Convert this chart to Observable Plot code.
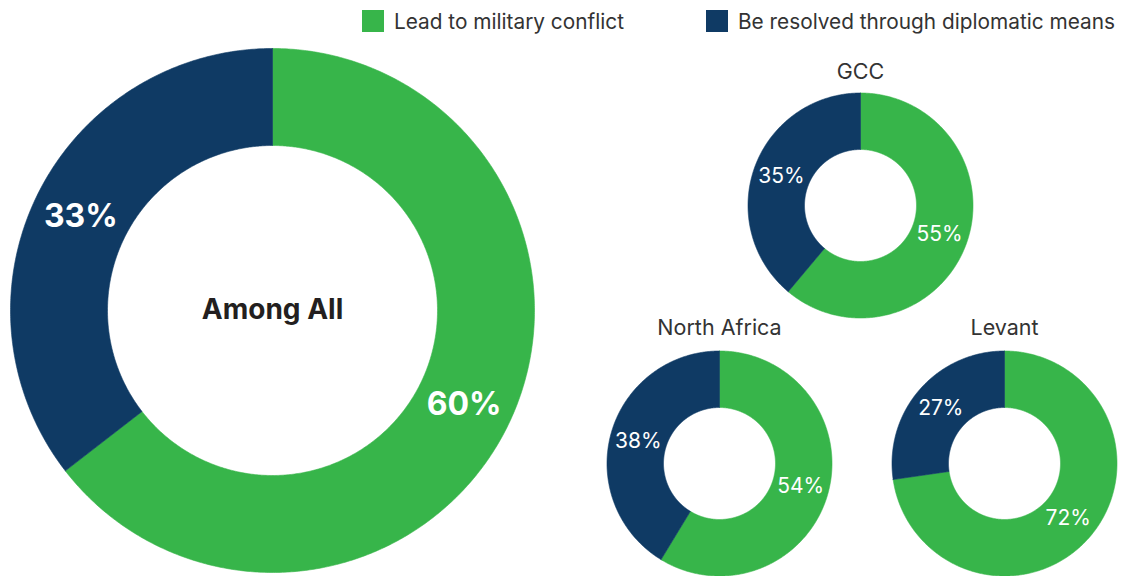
<!DOCTYPE html>
<html>
<head>
<meta charset="utf-8">
<script src="https://cdn.jsdelivr.net/npm/d3@7"></script>
<script src="https://cdn.jsdelivr.net/npm/@observablehq/plot@0.6"></script>
<style>
  html, body { margin: 0; padding: 0; background: #fff; }
  body { width: 1148px; height: 576px; overflow: hidden; font-family: Inter, "Noto Sans", sans-serif; }
  #legend { position: relative; height: 42px; width: 1148px; }
  .item { position: absolute; top: 10px; display: flex; align-items: center; height: 22px; font-size: 20.8px; color: #333; white-space: nowrap; }
  .sw { width: 22px; height: 22px; margin-right: 10px; flex: none; }
  #chart svg { display: block; }
</style>
</head>
<body>
<div id="legend"></div>
<div id="chart"></div>
<script>
// ---- data ----
const groups = ["Among All", "GCC", "North Africa", "Levant"];
const military = [60, 55, 54, 72];
const diplomatic = [33, 35, 38, 27];
const seriesNames = ["Lead to military conflict", "Be resolved through diplomatic means"];
const seriesColors = ["#37b54a", "#0f3a64"];

// ---- layout (pixels, SVG coordinates) ----
const W = 1148, H = 534, TOP = 42;
const layout = [
  {cx: 272,  cy: 310 - TOP, R: 262,   r: 165, titleY: null,      big: true},
  {cx: 860,  cy: 205 - TOP, R: 112.5, r: 56,  titleY: 72 - TOP,  big: false},
  {cx: 719,  cy: 463 - TOP, R: 112.5, r: 56,  titleY: 328 - TOP, big: false},
  {cx: 1004, cy: 463 - TOP, R: 112.5, r: 56,  titleY: 328 - TOP, big: false}
];

// legend
const legendX = [362, 706];
const legend = document.getElementById("legend");
seriesNames.forEach((name, i) => {
  const it = document.createElement("div");
  it.className = "item";
  it.style.left = legendX[i] + "px";
  it.innerHTML = `<span class="sw" style="background:${seriesColors[i]}"></span><span>${name}</span>`;
  legend.appendChild(it);
});

// build arc polygons from the data
const arcRows = [];
const labelRows = [];
groups.forEach((g, gi) => {
  const L = layout[gi];
  const vals = [military[gi], diplomatic[gi]];
  const total = d3.sum(vals);
  let a = 0;
  vals.forEach((v, si) => {
    const a0 = a, a1 = a + (v / total) * 2 * Math.PI;
    a = a1;
    const n = Math.max(2, Math.ceil((a1 - a0) / (Math.PI / 360)));
    const pts = [];
    for (let k = 0; k <= n; k++) {
      const t = a0 + (a1 - a0) * k / n;
      pts.push([L.cx + L.R * Math.sin(t), L.cy - L.R * Math.cos(t)]);
    }
    for (let k = n; k >= 0; k--) {
      const t = a0 + (a1 - a0) * k / n;
      pts.push([L.cx + L.r * Math.sin(t), L.cy - L.r * Math.cos(t)]);
    }
    pts.push(pts[0]);
    pts.forEach(([x, y]) => arcRows.push({group: g, series: si, x, y}));
    const am = (a0 + a1) / 2, rm = (L.R + L.r) / 2;
    labelRows.push({group: g, big: L.big, x: L.cx + rm * Math.sin(am), y: L.cy - rm * Math.cos(am), text: v + "%"});
  });
});

const titleRows = groups.map((g, i) => ({g, x: layout[i].cx, y: layout[i].titleY, big: layout[i].big}));

const chart = Plot.plot({
  width: W,
  height: H,
  margin: 0,
  style: {fontFamily: "Inter, 'Noto Sans', sans-serif", background: "white"},
  x: {type: "linear", domain: [0, W], range: [0, W], axis: null},
  y: {type: "linear", domain: [0, H], range: [0, H], axis: null},
  marks: [
    ...seriesNames.map((s, si) => Plot.line(arcRows.filter(d => d.series === si), {
      x: "x", y: "y", z: "group", fill: seriesColors[si], stroke: seriesColors[si], strokeWidth: 0.6
    })),
    Plot.text(labelRows.filter(d => d.big), {x: "x", y: "y", text: "text", fill: "white", fontSize: 32, fontWeight: "bold"}),
    Plot.text(labelRows.filter(d => !d.big), {x: "x", y: "y", text: "text", fill: "white", fontSize: 21}),
    Plot.text(titleRows.filter(d => d.big), {x: "x", y: d => layout[0].cy, text: "g", fill: "#231f20", fontSize: 28, fontWeight: "bold"}),
    Plot.text(titleRows.filter(d => !d.big), {x: "x", y: "y", text: "g", fill: "#333", fontSize: 21.5})
  ]
});
document.getElementById("chart").appendChild(chart);
</script>
</body>
</html>
